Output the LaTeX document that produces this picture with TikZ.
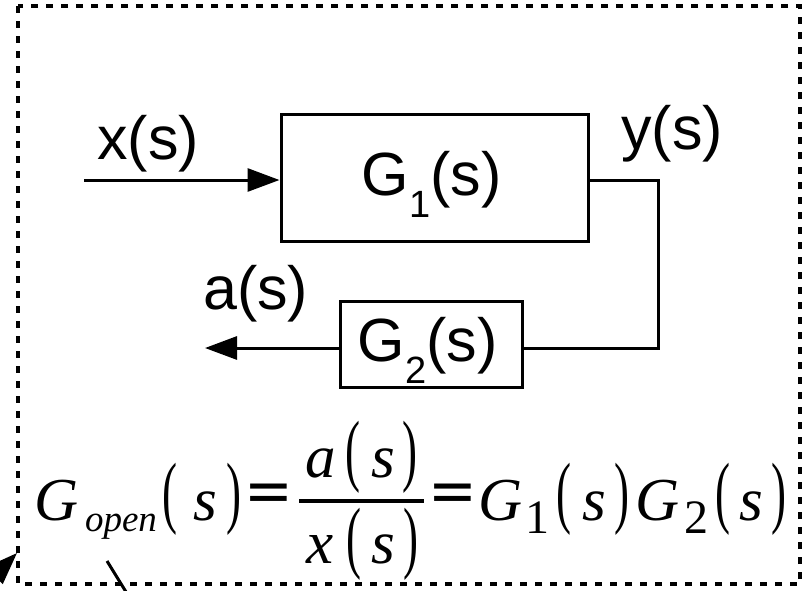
\documentclass[tikz,border=0pt]{standalone}
\usepackage{fontspec}
\usepackage{graphicx}
\setmainfont{Liberation Sans}
\newfontfamily\carl{Carlito}
\newfontfamily\tms{Liberation Serif}
\newcommand\mylp{\scalebox{0.75}[1.33]{(}}
\newcommand\myrp{\scalebox{0.75}[1.33]{)}}
\usetikzlibrary{arrows.meta}
\begin{document}
\begin{tikzpicture}[x=1pt,y=-1pt,
  lbl/.style={inner sep=0pt,anchor=base west,font=\fontsize{61}{61}\selectfont},
  sublbl/.style={inner sep=0pt,anchor=base west,font=\fontsize{38}{38}\selectfont},
  blk/.style={draw,line width=3pt,inner sep=0pt},
  wire/.style={line width=3pt},
  arr/.style={wire,-{Triangle[length=32pt,width=23pt]}},
  fm/.style={inner sep=0pt,anchor=base,font=\tms\itshape\fontsize{61}{61}\selectfont},
  fsub/.style={inner sep=0pt,anchor=base,font=\tms\fontsize{48}{48}\selectfont},
  par/.style={inner sep=0pt,anchor=center,font=\tms\fontsize{60}{60}\selectfont},
  eq/.style={inner sep=0pt,anchor=center,font=\carl\fontsize{60}{60}\selectfont},
  frame/.style={line width=4pt,dash pattern=on 7pt off 8pt},
]
\useasboundingbox (0,0) rectangle (803,590);
\clip (0,0) rectangle (803,590);

% dashed frame
\draw[frame] (18,6) rectangle (800,584);

% blocks
\node[blk,minimum width=307pt,minimum height=127pt] (g1) at (434.5,177.5) {};
\node[blk,minimum width=182pt,minimum height=86pt] (g2) at (431,344) {};

% block texts
\node[lbl] (g1G) at (361,195) {G};
\node[sublbl] (g1sub) at (g1G.base east) [yshift=-22pt] {1};
\node[lbl] (g1s) at (g1sub.base east) [yshift=22pt] {(s)};
\node[lbl] (g2G) at (357,361) {G};
\node[sublbl] (g2sub) at (g2G.base east) [yshift=-22pt] {2};
\node[lbl] (g2s) at (g2sub.base east) [yshift=22pt] {(s)};

% signal labels
\node[lbl] (xs) at (97,159) {x(s)};
\node[lbl] (ys) at (621,149) {y(s)};
\node[lbl] (as) at (203,309) {a(s)};

% wires
\coordinate (in) at (84,180);
\coordinate (c1) at (658,180);
\coordinate (c2) at (658,348);
\coordinate (out) at (205,348);
\draw[arr] (in) -- (in -| g1.west);
\draw[wire] (in -| g1.east) -- (c1) -- (c2) -- (c2 -| g2.east);
\draw[arr] (c2 -| g2.west) -- (out);

% stray arrow and line at bottom left
\coordinate (s0) at (-30,600);
\coordinate (s1) at (17,553);
\draw[arr] (s0) -- (s1);
\coordinate (t0) at (107,561);
\coordinate (t1) at (131,600);
\draw[wire] (t0) -- (t1);

% formula
\node[fm] (fG) at (57,520) {G};
\node[fm,font=\tms\itshape\fontsize{37}{37}\selectfont] (fopen) at (121,531) {open};
\node[par] (fp1) at (170,499) {\mylp};
\node[fm] (fs1) at (205,520) {s};
\node[par] (fq1) at (234,499) {\myrp};
\node[eq] (fe1) at (268.5,500.5) {\scalebox{1.5}[1.3]{=}};
\draw[line width=4pt] (299,501) -- (424,501);
\node[fm] (fa) at (321,477) {a};
\node[par] (fp2) at (353,457.5) {\mylp};
\node[fm] (fs2) at (383.5,477) {s};
\node[par] (fq2) at (410,457.5) {\myrp};
\node[fm] (fx) at (320,563) {x};
\node[par] (fp3) at (354,544) {\mylp};
\node[fm] (fs3) at (383.5,563) {s};
\node[par] (fq3) at (411,544) {\myrp};
\node[eq] (fe2) at (452.5,500.5) {\scalebox{1.5}[1.3]{=}};
\node[fm] (fG1) at (501,520) {G};
\node[fsub] (f1) at (537.5,533) {1};
\node[par] (fp4) at (564,499) {\mylp};
\node[fm] (fs4) at (594.5,520) {s};
\node[par] (fq4) at (622,499) {\myrp};
\node[fm] (fG2) at (658,520) {G};
\node[fsub] (f2) at (696,533) {2};
\node[par] (fp5) at (723,499) {\mylp};
\node[fm] (fs5) at (751.5,520) {s};
\node[par] (fq5) at (779,499) {\myrp};
\end{tikzpicture}
\end{document}
